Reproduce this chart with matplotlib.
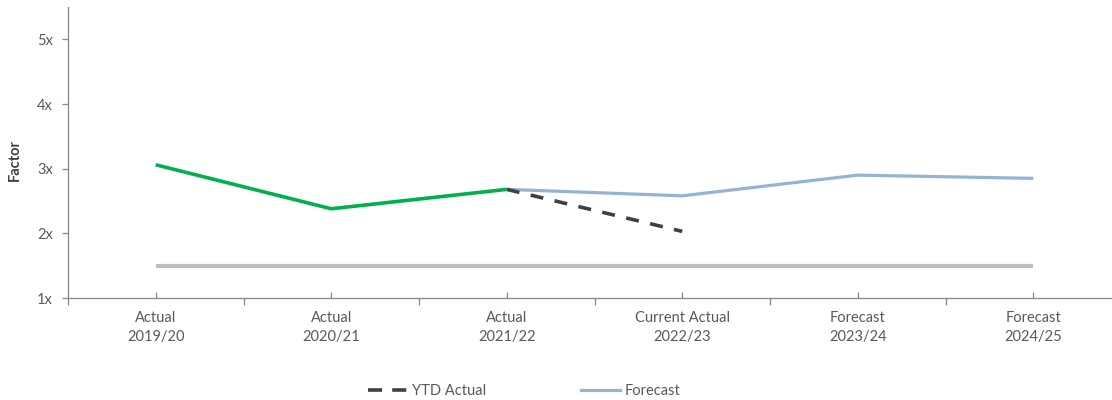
import matplotlib
matplotlib.use("Agg")
import matplotlib.pyplot as plt
from matplotlib.lines import Line2D
from matplotlib.ticker import FixedLocator, FuncFormatter

plt.rcParams["font.family"] = ["Lato", "DejaVu Sans"]

categories = ["Actual\n2019/20", "Actual\n2020/21", "Actual\n2021/22",
              "Current Actual\n2022/23", "Forecast\n2023/24", "Forecast\n2024/25"]
actual = [3.06, 2.38, 2.68, None, None, None]
ytd_actual = [None, None, 2.68, 2.03, None, None]
forecast = [None, None, 2.68, 2.58, 2.90, 2.85]
threshold = [1.5, 1.5, 1.5, 1.5, 1.5, 1.5]
y_ticks = [1, 2, 3, 4, 5]


def pts(values):
    xs, ys = [], []
    for i, v in enumerate(values):
        if v is not None:
            xs.append(i)
            ys.append(v)
    return xs, ys


text_col = "#595959"
axis_col = "#868686"
fs = 10.5
dash = (3.6, 3.2)

fig = plt.figure(figsize=(11.12, 4.0), dpi=100)
ax = fig.add_axes([68 / 1112, 1 - 298 / 400, (1121 - 68) / 1112, (298 - 7) / 400])

ax.plot(*pts(threshold), color="#BFBFBF", lw=3.0, solid_capstyle="butt", zorder=2)
ax.plot(*pts(forecast), color="#95B3D7", lw=2.3, solid_capstyle="butt", zorder=3)
ax.plot(*pts(ytd_actual), color="#404040", lw=2.6, dashes=dash, zorder=4)
ax.plot(*pts(actual), color="#00B050", lw=2.6, solid_capstyle="butt", zorder=5)

ax.set_xlim(-0.5, len(categories) - 0.5)
ax.set_ylim(1, 5.5)

for s in ("top", "right"):
    ax.spines[s].set_visible(False)
for s in ("left", "bottom"):
    ax.spines[s].set_color(axis_col)
    ax.spines[s].set_linewidth(0.9)

ax.set_yticks(y_ticks)
ax.yaxis.set_major_formatter(FuncFormatter(lambda v, p: f"{int(v)}x"))
ax.tick_params(axis="y", direction="out", length=4, width=0.9, color=axis_col,
               labelcolor=text_col, labelsize=fs, pad=7)

ax.set_xticks(range(len(categories)))
ax.set_xticklabels(categories, linespacing=1.5)
ax.xaxis.set_minor_locator(FixedLocator([i + 0.5 for i in range(-1, len(categories))]))
ax.tick_params(axis="x", which="major", direction="in", length=4, width=0.9,
               color=axis_col, labelcolor=text_col, labelsize=fs, pad=9)
ax.tick_params(axis="x", which="minor", direction="out", length=5, width=0.9,
               color=axis_col)

fig.text(15 / 1112, 1 - 160 / 400, "Factor", rotation=90, ha="center", va="center",
         fontsize=fs, fontweight="bold", color="#404040")

handles = [
    Line2D([], [], color="#404040", lw=2.6, dashes=(3.9, 2.8)),
    Line2D([], [], color="#95B3D7", lw=2.3),
]
fig.legend(handles, ["YTD Actual", "Forecast"], ncol=2, frameon=False,
           loc="center left", bbox_to_anchor=(368 / 1112, 1 - 391 / 400),
           fontsize=fs, labelcolor=text_col, handlelength=2.7,
           handletextpad=0.3, columnspacing=6.5, borderaxespad=0, borderpad=0)

fig.savefig("out.png", dpi=100)
